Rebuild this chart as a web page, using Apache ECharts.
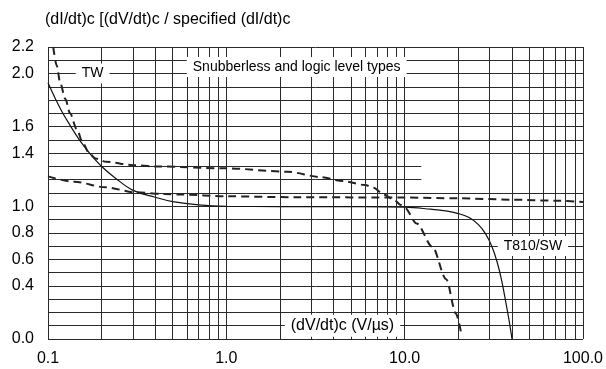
<!DOCTYPE html>
<html>
<head>
<meta charset="utf-8">
<script src="https://cdn.jsdelivr.net/npm/echarts@6/dist/echarts.min.js"></script>
<style>
html,body{margin:0;padding:0;background:#fff;}
#chart{width:606px;height:369px;}
</style>
</head>
<body>
<div id="chart"></div>
<script>
// ---- data ----
const titleText = '(dI/dt)c [(dV/dt)c / specified (dI/dt)c';
const xAxisTitle = '(dV/dt)c (V/µs)';
const yLabelValues = [0.0, 0.4, 0.6, 0.8, 1.0, 1.4, 1.6, 2.0, 2.2];
const minorXLines = [0.2,0.3,0.4,0.5,0.6,0.7,0.8,0.9,2,3,4,5,6,7,8,9,20,30,40,50,60,70,80,90];

const solidT810 = [[0.1,1.93],[0.11,1.81],[0.12,1.71],[0.133,1.61],[0.15,1.50],[0.171,1.40],[0.2,1.30],[0.24,1.21],[0.3,1.12],[0.4,1.068],[0.5,1.035],[0.7,1.01],[1,1.0],[2,0.998],[5,0.997],[10,0.993],[14,0.978],[17,0.965],[20,0.945],[23,0.915],[26,0.86],[28.5,0.79],[31,0.69],[33,0.58],[35,0.44],[37,0.27],[38.5,0.14],[40,0.0]];
const dashedTW = [[0.107,2.2],[0.112,2.06],[0.117,1.93],[0.125,1.81],[0.133,1.70],[0.145,1.58],[0.157,1.475],[0.17,1.40],[0.185,1.36],[0.212,1.335],[0.3,1.31],[0.4,1.30],[1,1.286],[2.2,1.26],[3.4,1.22],[4.5,1.19],[6,1.16],[6.7,1.14],[7.6,1.09],[8.7,1.05],[9.5,1.01],[10,0.99],[11.7,0.87],[14.3,0.695],[17.1,0.45],[19.4,0.19],[20.7,0.05]];
const dashedSnubberless = [[0.1,1.225],[0.14,1.185],[0.21,1.143],[0.31,1.105],[0.45,1.092],[0.56,1.088],[1,1.075],[2.5,1.068],[10,1.066],[20,1.06],[40,1.05],[70,1.042],[100,1.033]];

const annotations = [
  {text:'TW', coord:[0.178, 2.0], size:14},
  {text:'Snubberless and logic level types', coord:[2.48, 2.05], size:14},
  {text:xAxisTitle, coord:[4.48, 0.1], size:16},
  {text:'T810/SW', coord:[52.4, 0.7], size:14}
];
const blankStrip = [[12.4, 1.155],[100, 1.305]];

// ---- chart ----
const FONT = 'Liberation Sans, Arial, sans-serif';
const GRID = '#2a2a2a';
const chart = echarts.init(document.getElementById('chart'), null, {renderer:'canvas'});
chart.setOption({
  animation:false,
  backgroundColor:'#fff',
  title:{text:titleText,left:40,top:7,textStyle:{fontFamily:FONT,fontSize:16,fontWeight:'normal',color:'#000'}},
  grid:{left:48,right:14,top:47,bottom:30},
  xAxis:{type:'log',logBase:10,min:0.1,max:100,
    axisLine:{show:false},axisTick:{show:false},
    splitLine:{show:true,lineStyle:{color:GRID,width:1}},
    axisLabel:{fontFamily:FONT,fontSize:16,color:'#000',margin:12,formatter:v=>Number(v).toFixed(1)}},
  yAxis:{type:'value',min:0,max:2.2,interval:0.1,
    axisLine:{show:false},axisTick:{show:false},
    splitLine:{show:true,lineStyle:{color:GRID,width:1}},
    axisLabel:{fontFamily:FONT,fontSize:16,color:'#000',margin:14,
      formatter:v=>{const r=Math.round(v*10);return yLabelValues.some(y=>Math.round(y*10)===r)?(r/10).toFixed(1):'';}}},
  series:[
    {type:'line',name:'grid',z:1,data:[],silent:true,
      markLine:{silent:true,symbol:['none','none'],label:{show:false},
        lineStyle:{color:GRID,width:1,type:'solid'},
        data:minorXLines.map(v=>({xAxis:v}))},
      markArea:{silent:true,itemStyle:{color:'#fff'},
        data:[[{coord:blankStrip[0]},{coord:blankStrip[1]}]]}},
    {type:'line',name:'T810/SW',z:3,data:solidT810,showSymbol:false,smooth:0.4,
      lineStyle:{color:'#111',width:1.2}},
    {type:'line',name:'TW',z:3,data:dashedTW,showSymbol:false,smooth:0.3,smoothMonotone:'x',
      lineStyle:{color:'#222',width:2,type:[8,5]}},
    {type:'line',name:'Snubberless',z:3,data:dashedSnubberless,showSymbol:false,smooth:0.3,smoothMonotone:'x',
      lineStyle:{color:'#222',width:2,type:[8,5]}},
    {type:'line',name:'labels',z:4,data:[],silent:true,
      markPoint:{silent:true,symbol:'rect',symbolSize:0,
        label:{show:true,position:'inside',fontFamily:FONT,color:'#000',
          backgroundColor:'#fff',padding:[3,6,3,6]},
        data:annotations.map(a=>({coord:a.coord,value:a.text,label:{formatter:a.text,fontSize:a.size}}))}}
  ]
});
</script>
</body>
</html>
